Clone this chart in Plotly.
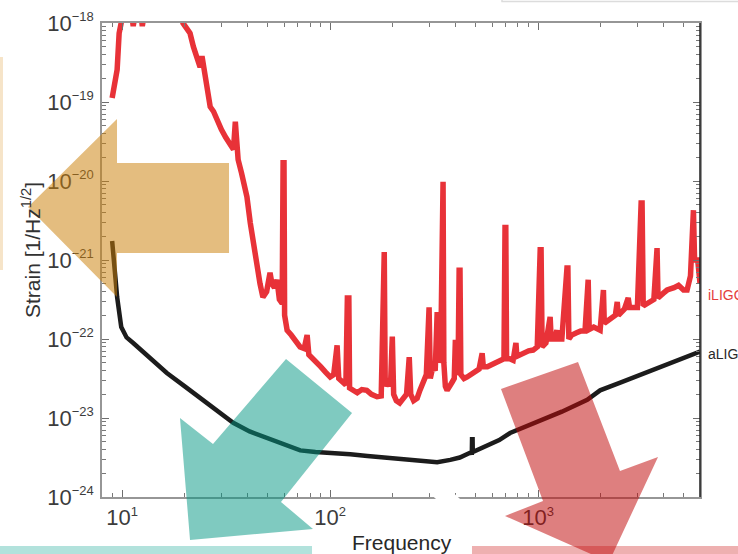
import plotly.graph_objects as go
import numpy as np

# ---------------- data ----------------
aligo_freq = [8.95, 9.2, 9.46, 9.9, 10.5, 11.3, 13.0, 16.4, 20.0, 23.7, 28.0, 34.2, 41.0,
              49.8, 60.0, 71.8, 85.0, 103, 125, 151, 185, 224, 270, 327, 378, 420, 471,
              480, 481, 484, 485, 550, 650, 733, 1000, 1300, 1722, 1986, 2500, 3000,
              4000, 5000, 6000]
aligo_log_strain = [-20.76, -21.1, -21.47, -21.85, -21.98, -22.05, -22.2, -22.43, -22.6,
                    -22.75, -22.9, -23.06, -23.17, -23.25, -23.34, -23.41, -23.43, -23.44,
                    -23.46, -23.48, -23.5, -23.52, -23.54, -23.56, -23.53, -23.5, -23.44,
                    -23.44, -23.27, -23.27, -23.43, -23.37, -23.28, -23.19, -23.05, -22.92,
                    -22.77, -22.65, -22.55, -22.47, -22.34, -22.24, -22.16]

iligo_freq = [8.95, 9.25, 9.46, 9.67, 9.89, 10.2, 10.9, 11.3, 11.7, 12.2, 12.5, 12.9, 14.0,
              17.0, 19.0, 19.6, 20.5, 21.2, 22.0, 22.9, 23.7, 24.2, 24.8, 25.5, 26.5, 27.5,
              28.6, 30.0, 31.5, 33.0, 34.3, 35.0, 35.6, 36.1, 37.5, 39.8, 41.3, 43.0, 44.6,
              46.0, 47.5, 49.5, 51.4, 52.5, 54.0, 55.5, 57.0, 58.8, 59.4, 60.0, 60.4, 62.1,
              65.0, 68.0, 71.7, 75.0, 77.5, 79.0, 83.0, 86.6, 90.0, 95.0, 100, 104, 108,
              110, 115, 119, 121, 123, 124, 129, 135, 142, 150, 158, 168, 176, 180, 182,
              184, 190, 195, 199, 202, 208, 216, 225, 233, 240, 244, 252, 262, 270, 279,
              290, 299, 303, 312, 320, 327, 333, 340, 345, 349, 352, 358, 365, 375, 385,
              395, 400, 405, 412, 417, 421, 425, 440, 456, 475, 500, 520, 538, 545, 570,
              600, 630, 660, 685, 693, 699, 705, 730, 758, 782, 790, 820, 860, 900, 946,
              990, 1023, 1033, 1045, 1090, 1142, 1155, 1200, 1231, 1245, 1300, 1376, 1390,
              1405, 1450, 1530, 1600, 1680, 1722, 1740, 1760, 1850, 1986, 2060, 2080, 2200,
              2350, 2400, 2430, 2600, 2710, 2750, 2865, 3000, 3127, 3160, 3200, 3450, 3600,
              3730, 3770, 4000, 4170, 4500, 4730, 5000, 5200, 5400, 5500, 5580, 5650, 5850,
              6000]
iligo_log_strain = [-18.95, -18.76, -18.59, -18.13, -18.0, -17.6, -17.7, -18.04, -17.8,
                    -17.8, -18.04, -17.8, -17.4, -17.5, -17.85, -18.0, -18.08, -18.13,
                    -18.3, -18.43, -18.56, -18.42, -18.62, -18.85, -19.06, -19.12, -19.23,
                    -19.35, -19.45, -19.52, -19.6, -19.25, -19.6, -19.73, -19.9, -20.2,
                    -20.53, -20.85, -21.09, -21.3, -21.47, -21.4, -21.16, -21.3, -21.35,
                    -21.25, -21.5, -21.55, -19.77, -19.77, -21.7, -21.89, -21.95, -22.02,
                    -22.1, -22.12, -21.95, -22.2, -22.25, -22.3, -22.35, -22.42, -22.48,
                    -22.45, -22.08, -22.5, -22.55, -22.58, -21.48, -21.48, -22.62, -22.65,
                    -22.68, -22.64, -22.65, -22.7, -22.73, -22.72, -20.9, -20.9, -22.6,
                    -22.5, -22.6, -21.97, -22.7, -22.78, -22.81, -22.75, -22.7, -22.23,
                    -22.7, -22.78, -22.75, -22.65, -22.56, -22.45, -21.6, -22.5, -22.35,
                    -22.4, -21.66, -22.3, -22.2, -20.01, -20.01, -22.3, -22.6, -22.65,
                    -22.58, -22.55, -22.5, -22.01, -22.45, -22.4, -21.13, -21.13, -22.45,
                    -22.5, -22.48, -22.45, -22.4, -22.38, -22.18, -22.35, -22.35, -22.32,
                    -22.3, -22.28, -22.25, -20.59, -20.59, -22.25, -22.25, -22.27, -22.05,
                    -22.22, -22.2, -22.17, -22.15, -22.14, -22.1, -20.87, -20.87, -22.1,
                    -22.05, -21.72, -22.0, -22.0, -21.89, -22.0, -22.0, -21.1, -21.1, -22.0,
                    -21.95, -21.92, -21.9, -21.9, -21.25, -21.25, -21.88, -21.85, -21.89,
                    -21.38, -21.8, -21.75, -21.7, -21.53, -21.7, -21.62, -21.48, -21.6,
                    -21.6, -21.6, -20.28, -20.28, -21.58, -21.54, -21.5, -20.85, -21.48,
                    -21.42, -21.38, -21.35, -21.32, -21.38, -21.38, -21.2, -20.37, -20.37,
                    -21.0, -21.0, -21.29]

x_tick_vals = [10, 100, 1000]
x_tick_text = ["10<sup><span style='font-size:13px'>1</span></sup>",
               "10<sup><span style='font-size:13px'>2</span></sup>",
               "10<sup><span style='font-size:13px'>3</span></sup>"]
y_tick_vals = [1e-24, 1e-23, 1e-22, 1e-21, 1e-20, 1e-19, 1e-18]
y_tick_text = ["10<sup><span style='font-size:13px'>\u2212%d</span></sup>" % e
               for e in [24, 23, 22, 21, 20, 19, 18]]

x_minor = [m * 10 ** d for d in range(0, 4) for m in range(2, 10)]
y_minor = [m * 10.0 ** d for d in range(-24, -18) for m in range(2, 10)]

# ---------------- figure ----------------
W, H = 738, 554
L, R, T, B = 102, 700, 23, 497


def P(x, y):
    return (x - L) / (R - L), (B - y) / (B - T)


def path(points):
    pts = [P(x, y) for x, y in points]
    return "M " + " L ".join("%.4f,%.4f" % p for p in pts) + " Z"


fig = go.Figure()
fig.add_trace(go.Scatter(x=iligo_freq, y=np.power(10.0, iligo_log_strain), mode="lines",
                         line=dict(color="rgb(232,50,56)", width=5.5), showlegend=False,
                         hoverinfo="skip"))
fig.add_trace(go.Scatter(x=aligo_freq, y=np.power(10.0, aligo_log_strain), mode="lines",
                         line=dict(color="rgb(28,28,28)", width=4.5), showlegend=False,
                         hoverinfo="skip"))

font = "Liberation Sans, Arial, Helvetica, sans-serif"
axcol = "rgb(150,150,150)"

shapes = []
shapes.append(dict(type="path", xref="paper", yref="paper", layer="above",
                   path=path([(-20, 57), (3, 57), (3, 270), (-20, 270)]),
                   fillcolor="rgb(246,228,200)", line=dict(width=0)))
shapes.append(dict(type="path", xref="paper", yref="paper", layer="above",
                   path=path([(502, -20), (760, -20), (760, 1.5), (502, 1.5)]),
                   fillcolor="white", line=dict(color="rgb(220,220,220)", width=1.5)))
shapes.append(dict(type="path", xref="paper", yref="paper", layer="above",
                   path=path([(-20, 546), (312, 546), (312, 580), (-20, 580)]),
                   fillcolor="rgb(178,226,220)", line=dict(width=0)))
shapes.append(dict(type="path", xref="paper", yref="paper", layer="above",
                   path=path([(472, 546), (760, 546), (760, 580), (472, 580)]),
                   fillcolor="rgb(238,176,176)", line=dict(width=0)))
shapes.append(dict(type="path", xref="paper", yref="paper", layer="above",
                   path=path([(411, 476), (435, 476), (485, 522), (461, 522)]),
                   fillcolor="white", line=dict(width=0)))
shapes.append(dict(type="path", xref="paper", yref="paper", layer="above",
                   path=path([(229, 163), (117, 163), (117, 119), (28, 207), (117, 297),
                              (117, 253), (229, 253)]),
                   fillcolor="rgb(204,128,10)", opacity=0.52, line=dict(width=0)))
shapes.append(dict(type="path", xref="paper", yref="paper", layer="above",
                   path=path([(286, 359), (352, 413), (281, 502), (313, 529), (190, 540),
                              (180, 418), (213, 444)]),
                   fillcolor="rgb(0,150,130)", opacity=0.5, line=dict(width=0)))
shapes.append(dict(type="path", xref="paper", yref="paper", layer="above",
                   path=path([(501, 389), (578, 362), (620, 471), (658, 457), (609, 562),
                              (505, 516), (543, 501)]),
                   fillcolor="rgb(192,10,10)", opacity=0.52, line=dict(width=0)))
shapes.append(dict(type="line", xref="paper", yref="paper", layer="above",
                   x0=1, x1=1, y0=0, y1=1, line=dict(color="rgb(30,30,30)", width=1.5)))

annotations = [
    dict(text="Strain [1/Hz<sup>1/2</sup>]", textangle=-90, xref="paper", yref="paper",
         x=P(31, 0)[0], y=P(0, 250)[1], showarrow=False, xanchor="center", yanchor="middle",
         font=dict(family=font, size=21, color="rgb(50,50,50)")),
    dict(text="Frequency", xref="paper", yref="paper", x=P(402, 0)[0], y=P(0, 542)[1],
         showarrow=False, xanchor="center", yanchor="middle",
         font=dict(family=font, size=21, color="rgb(40,40,40)")),
    dict(text="iLIGO", xref="paper", yref="paper", x=P(706, 0)[0], y=P(0, 295)[1],
         showarrow=False, xanchor="left", yanchor="middle",
         font=dict(family=font, size=14, color="rgb(228,60,60)")),
    dict(text="aLIGO", xref="paper", yref="paper", x=P(706, 0)[0], y=P(0, 354)[1],
         showarrow=False, xanchor="left", yanchor="middle",
         font=dict(family=font, size=14, color="rgb(40,40,40)")),
]

fig.update_layout(
    width=W, height=H,
    margin=dict(l=L, r=W - R, t=T, b=H - B, pad=0, autoexpand=False),
    paper_bgcolor="white", plot_bgcolor="white",
    shapes=shapes, annotations=annotations, showlegend=False,
    xaxis=dict(type="log", range=[np.log10(8), np.log10(6000)], showgrid=False,
               automargin=False,
               zeroline=False, showline=True, linecolor=axcol, linewidth=1.5,
               mirror="ticks", ticks="inside", ticklen=7, tickwidth=1, tickcolor="rgb(110,110,110)",
               tickmode="array", tickvals=x_tick_vals, ticktext=x_tick_text,
               tickfont=dict(family=font, size=22, color="rgb(60,60,60)"),
               minor=dict(ticks="inside", ticklen=4, tickwidth=1, tickcolor="rgb(120,120,120)",
                          tickmode="array", tickvals=x_minor, showgrid=False)),
    yaxis=dict(type="log", range=[-24, -18], showgrid=False, zeroline=False,
               automargin=False,
               showline=True, linecolor=axcol, linewidth=1.5,
               mirror="ticks", ticks="inside", ticklen=7, tickwidth=1, tickcolor="rgb(110,110,110)",
               tickmode="array", tickvals=y_tick_vals, ticktext=y_tick_text,
               tickfont=dict(family=font, size=22, color="rgb(60,60,60)"),
               ticklabelstandoff=2,
               minor=dict(ticks="inside", ticklen=4, tickwidth=1, tickcolor="rgb(120,120,120)",
                          tickmode="array", tickvals=y_minor, showgrid=False)),
)

fig.write_html("out.html", config={"displayModeBar": False},
               post_script="document.body.style.margin='0';document.body.style.overflow='hidden';")
